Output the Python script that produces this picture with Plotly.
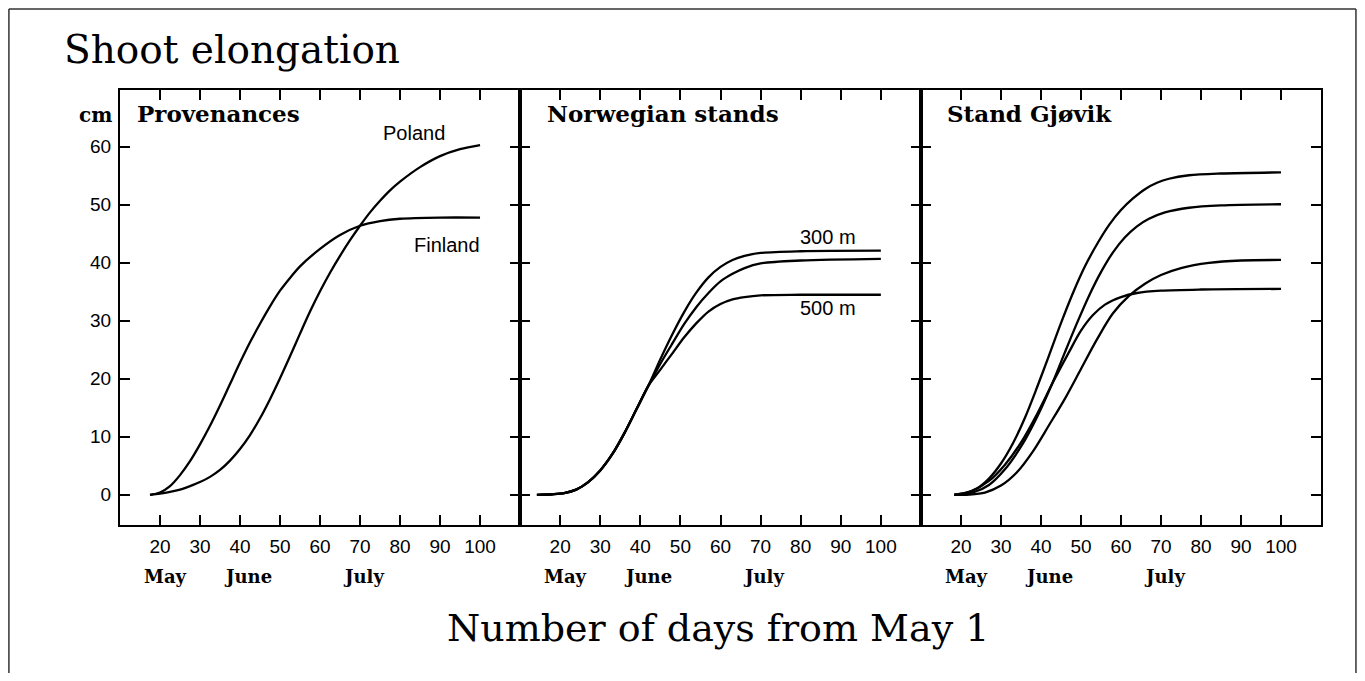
import plotly.graph_objects as go

# ---------------- data ----------------
x_ticks = [20, 30, 40, 50, 60, 70, 80, 90, 100]
y_ticks = [0, 10, 20, 30, 40, 50, 60]

panel_titles = ["Provenances", "Norwegian stands", "Stand Gjøvik"]
month_labels = ["May", "June", "July"]
month_pos = [21.4, 41.9, 70.8]

# Panel 1: Provenances
poland_x = [17.5, 20, 22.5, 25, 27.5, 30, 32.5, 35, 37.5, 40, 42.5, 45, 47.5, 50, 52.5, 55, 57.5,
            60, 62.5, 65, 67.5, 70, 72.5, 75, 77.5, 80, 85, 90, 95, 100]
poland_y = [0, 0.2, 0.5, 0.9, 1.5, 2.2, 3.1, 4.3, 5.9, 7.9, 10.3, 13.2, 16.5, 20.1, 23.9, 27.8, 31.6,
            35.1, 38.3, 41.2, 43.9, 46.4, 48.7, 50.7, 52.5, 54.0, 56.5, 58.4, 59.6, 60.3]
finland_x = [17.5, 20, 22.5, 25, 27.5, 30, 32.5, 35, 37.5, 40, 42.5, 45, 47.5, 50, 52.5, 55,
             60, 65, 70, 75, 80, 90, 100]
finland_y = [0, 0.4, 1.5, 3.4, 5.8, 8.7, 11.9, 15.4, 19.1, 22.8, 26.3, 29.5, 32.5, 35.2, 37.4, 39.4,
             42.4, 44.8, 46.4, 47.2, 47.6, 47.8, 47.8]

# Panel 2: Norwegian stands
m300_x = [14.2, 18, 21, 24, 27, 30, 33, 36, 39, 42, 45, 48, 51, 54, 57, 60, 63, 66, 70, 80, 100]
m300_y = [0, 0.1, 0.3, 0.9, 2.2, 4.2, 7.0, 10.6, 14.7, 18.8, 23.4, 27.7, 31.6, 34.9, 37.5, 39.3, 40.5, 41.2, 41.7, 42.0, 42.1]
mid_x = [14.2, 18, 21, 24, 27, 30, 33, 36, 39, 42, 45, 48, 51, 54, 57, 60, 63, 66, 70, 80, 100]
mid_y = [0, 0.1, 0.3, 0.9, 2.2, 4.2, 7.0, 10.6, 14.7, 18.8, 22.6, 26.1, 29.5, 32.4, 34.8, 36.8, 38.1, 39.1, 39.9, 40.4, 40.7]
m500_x = [14.2, 18, 21, 24, 27, 30, 33, 36, 39, 42, 45, 48, 51, 54, 57, 60, 63, 66, 70, 80, 100]
m500_y = [0, 0.1, 0.3, 0.9, 2.2, 4.2, 7.0, 10.6, 14.7, 18.8, 21.6, 24.4, 27.2, 29.6, 31.6, 32.9, 33.7, 34.1, 34.4, 34.5, 34.5]

# Panel 3: Stand Gjøvik
gA_x = [18.3, 21, 24, 27, 30, 33, 36, 39, 42, 45, 48, 51, 54, 57, 60, 63, 66, 69, 72, 77, 85, 100]
gA_y = [0, 0.3, 1.1, 2.8, 5.4, 8.9, 13.3, 18.5, 24.0, 29.6, 34.8, 39.4, 43.2, 46.5, 49.1, 51.1, 52.7, 53.8, 54.5, 55.1, 55.4, 55.6]
gB_x = [18.3, 23, 27, 31, 35, 39, 43, 46, 49, 52, 55, 58, 61, 64, 67, 71, 77, 85, 100]
gB_y = [0, 0.4, 1.7, 4.4, 8.3, 13.4, 19.5, 24.6, 29.6, 34.3, 38.4, 41.8, 44.4, 46.3, 47.6, 48.7, 49.5, 49.9, 50.1]
gC_x = [18.3, 22, 26, 30, 34, 38, 42, 46, 50, 54, 58, 62, 66, 70, 75, 82, 90, 100]
gC_y = [0, 0.05, 0.4, 1.6, 3.9, 7.5, 12.0, 16.6, 21.7, 26.8, 31.3, 34.3, 36.4, 37.9, 39.1, 40.0, 40.4, 40.5]
gD_x = [18.3, 22.5, 27, 31, 35, 39, 43, 47, 50, 53, 56, 60, 64, 70, 80, 100]
gD_y = [0, 0.6, 2.4, 5.2, 9.0, 13.9, 19.4, 24.6, 28.3, 31.0, 32.8, 34.1, 34.8, 35.2, 35.4, 35.5]

curve_labels = [
    ("Poland", 83.4, 62.4, 1),
    ("Finland", 91.8, 43.1, 1),
    ("300 m", 86.7, 44.5, 2),
    ("500 m", 86.7, 32.2, 2),
]

# ---------------- figure ----------------
fig = go.Figure()
line = dict(color="black", width=2.3, shape="spline", smoothing=0.9)

series = [
    (poland_x, poland_y, 1), (finland_x, finland_y, 1),
    (m300_x, m300_y, 2), (mid_x, mid_y, 2), (m500_x, m500_y, 2),
    (gA_x, gA_y, 3), (gB_x, gB_y, 3), (gC_x, gC_y, 3), (gD_x, gD_y, 3),
]
for xs, ys, p in series:
    suf = "" if p == 1 else str(p)
    fig.add_trace(go.Scatter(x=xs, y=ys, mode="lines", line=line,
                             xaxis="x" + suf, yaxis="y" + suf, hoverinfo="skip"))

doms = [[0, 0.3331], [0.3331, 0.6669], [0.6669, 1]]
tickfont = dict(family="Liberation Sans", size=19, color="black")
for i in range(3):
    suf = "" if i == 0 else str(i + 1)
    fig.layout["xaxis" + suf] = dict(
        domain=doms[i], anchor="y" + suf, range=[10, 110], tickvals=x_ticks,
        ticks="inside", ticklen=10, tickwidth=2, tickcolor="black",
        showline=True, linewidth=2, linecolor="black", mirror="allticks",
        showgrid=False, zeroline=False, tickfont=tickfont, ticklabelstandoff=3)
    fig.layout["yaxis" + suf] = dict(
        domain=[0, 1], anchor="x" + suf, range=[-5.2, 69.8], tickvals=y_ticks,
        ticks="inside", ticklen=10, tickwidth=2, tickcolor="black",
        showline=True, linewidth=2, linecolor="black", mirror="allticks",
        showgrid=False, zeroline=False, tickfont=tickfont,
        showticklabels=(i == 0), ticklabelstandoff=3)

ann = []
title_x = [0.0375, 0.062, 0.06]
for i in range(3):
    suf = "" if i == 0 else str(i + 1)
    ann.append(dict(text=panel_titles[i], xref="x%s domain" % suf, yref="paper",
                    x=title_x[i], y=0.947, xanchor="left", yanchor="middle",
                    showarrow=False,
                    font=dict(family="DejaVu Serif", size=23, color="black", weight="bold")))
    for m, pos in zip(month_labels, month_pos):
        ann.append(dict(text=m, xref="x" + suf, yref="paper", x=pos, y=-0.1195,
                        xanchor="center", yanchor="middle", showarrow=False,
                        font=dict(family="DejaVu Serif", size=18, color="black", weight="bold")))
for t, x, y, p in curve_labels:
    suf = "" if p == 1 else str(p)
    ann.append(dict(text=t, xref="x" + suf, yref="y" + suf, x=x, y=y,
                    xanchor="center", yanchor="middle", showarrow=False,
                    font=dict(family="Liberation Sans", size=20, color="black")))
ann.append(dict(text="cm", xref="paper", yref="paper", x=-0.0208, y=0.9425,
                xanchor="center", yanchor="middle", showarrow=False,
                font=dict(family="DejaVu Serif", size=20, color="black", weight="bold")))
ann.append(dict(text="Shoot elongation", xref="paper", yref="paper", x=-0.0483, y=1.092,
                xanchor="left", yanchor="middle", showarrow=False,
                font=dict(family="DejaVu Serif", size=39, color="black")))
ann.append(dict(text="Number of days from May 1", xref="paper", yref="paper", x=0.4983, y=-0.2368,
                xanchor="center", yanchor="middle", showarrow=False,
                font=dict(family="DejaVu Serif", size=38, color="black")))

# outer frame: left, top and right sides only (bottom lies below the visible page)
fx0, fx1, fy0, fy1 = -0.0925, 1.0291, -0.345, 1.1862
frame_line = dict(color="#333", width=1.5)
frame = [
    dict(type="line", xref="paper", yref="paper", x0=fx0, x1=fx0, y0=fy0, y1=fy1, line=frame_line, layer="below"),
    dict(type="line", xref="paper", yref="paper", x0=fx0, x1=fx1, y0=fy1, y1=fy1, line=frame_line, layer="below"),
    dict(type="line", xref="paper", yref="paper", x0=fx1, x1=fx1, y0=fy0, y1=fy1, line=frame_line, layer="below"),
]

# page body has an 8px margin, so the figure is drawn smaller and offset
fig.update_layout(
    width=1349, height=665, margin=dict(l=112, r=36, t=82, b=148),
    paper_bgcolor="white", plot_bgcolor="white", showlegend=False,
    annotations=ann, shapes=frame,
)

fig.write_html("out.html")
